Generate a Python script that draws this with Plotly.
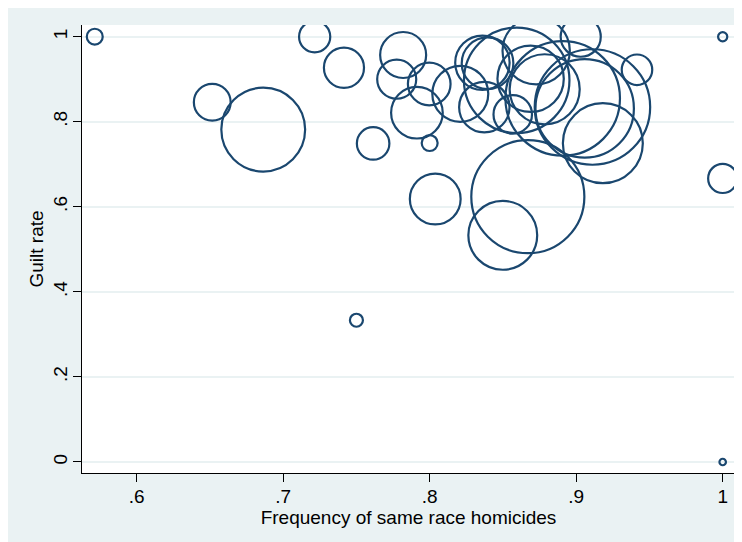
import plotly.graph_objects as go

# Data
freq_same_race = [0.5714, 0.7215, 0.7415, 0.6516, 0.6864, 0.7614, 0.7819, 0.7775, 0.7997, 0.7913,
                  0.80, 0.8038, 0.8209, 0.8360, 0.8395, 0.8373, 0.8567, 0.8594, 0.8727, 0.8689,
                  0.8785, 0.8908, 0.9058, 0.9111, 0.9182, 0.9031, 0.9415, 1.0, 1.0, 0.8670,
                  0.8499, 0.75, 1.0]
guilt_rate = [1.0, 1.0, 0.927, 0.8458, 0.7815, 0.749, 0.957, 0.900, 0.8888, 0.8213,
              0.75, 0.6184, 0.8657, 0.9386, 0.9375, 0.8343, 0.8173, 0.8974, 0.9669, 0.901,
              0.8763, 0.855, 0.8314, 0.8347, 0.7496, 1.0, 0.9222, 1.0, 0.6667, 0.6238,
              0.533, 0.3333, 0.0]
cases = [6, 23, 38, 32, 166, 25, 50, 36, 43, 63,
         6, 61, 74, 70, 63, 60, 35, 263, 107, 104,
         116, 310, 229, 315, 151, 38, 22, 2, 20, 302,
         112, 4, 1]

x_tickvals = [0.6, 0.7, 0.8, 0.9, 1.0]
x_ticktext = [".6", ".7", ".8", ".9", "1"]
y_tickvals = [0, 0.2, 0.4, 0.6, 0.8, 1.0]
y_ticktext = ["0", ".2", ".4", ".6", ".8", "1"]

NAVY = "#1A476F"
BG = "#EAF2F3"
FONT = "Liberation Sans, Arial, sans-serif"
FS = 19

fig = go.Figure()
fig.add_trace(go.Scatter(
    x=freq_same_race, y=guilt_rate, mode="markers",
    marker=dict(size=cases, sizemode="area", sizeref=1 / (4.6 ** 2), opacity=1,
                color="rgba(0,0,0,0)", line=dict(color=NAVY, width=2.2)),
    hoverinfo="x+y", showlegend=False,
))

axis_common = dict(
    ticks="outside", ticklen=8, tickwidth=1, tickcolor="#000",
    showline=True, linecolor="#000", linewidth=1, zeroline=False,
    automargin=False,
    tickfont=dict(family=FONT, size=FS, color="#000"),
)

fig.update_layout(
    template="none",
    width=734, height=534,
    margin=dict(l=74, r=7, t=17, b=69, autoexpand=False),
    paper_bgcolor=BG, plot_bgcolor="white",
    font=dict(family=FONT, size=FS, color="#000"),
    xaxis=dict(range=[0.5627, 1.0084], tickvals=x_tickvals, ticktext=x_ticktext,
               showgrid=False, ticklabelstandoff=-2,
               title=dict(text="Frequency of same race homicides",
                          font=dict(family=FONT, size=FS, color="#000"), standoff=0),
               **axis_common),
    yaxis=dict(range=[-0.0259, 1.0275], tickvals=y_tickvals, ticktext=y_ticktext,
               tickangle=-90, showgrid=True, gridcolor=BG, gridwidth=1.5,
               ticklabelstandoff=-2,
               title=dict(text="Guilt rate",
                          font=dict(family=FONT, size=FS, color="#000"), standoff=1),
               **axis_common),
)

fig.write_html("out.html")
